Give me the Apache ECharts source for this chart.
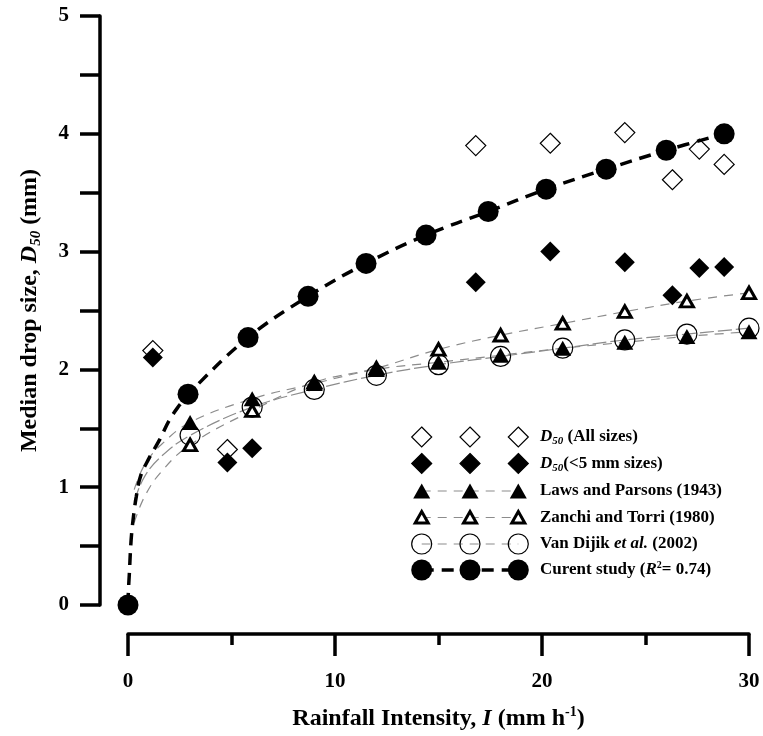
<!DOCTYPE html>
<html>
<head>
<meta charset="utf-8">
<script src="https://cdn.jsdelivr.net/npm/echarts@6.0.0/dist/echarts.min.js"></script>
<style>
  html, body { margin: 0; padding: 0; background: #fff; }
  #chart { width: 763px; height: 736px; }
</style>
</head>
<body>
<div id="chart"></div>
<script>
  // data
  const allSizesI = [1.2, 4.8, 16.8, 20.4, 24.0, 26.3, 27.6, 28.8]
  const allSizesD = [2.16, 1.32, 3.90, 3.92, 4.01, 3.61, 3.87, 3.74]
  const lt5I = [1.2, 4.8, 6.0, 16.8, 20.4, 24.0, 26.3, 27.6, 28.8]
  const lt5D = [2.10, 1.21, 1.33, 2.74, 3.00, 2.91, 2.63, 2.86, 2.87]

  const lawsI = [3, 6, 9, 12, 15, 18, 21, 24, 27, 30]
  const lawsD = [1.55, 1.75, 1.88, 2.00, 2.06, 2.12, 2.18, 2.23, 2.28, 2.32]
  const zanchiI = [3, 6, 9, 12, 15, 18, 21, 24, 27, 30]
  const zanchiD = [1.36, 1.65, 1.89, 2.01, 2.17, 2.29, 2.39, 2.49, 2.58, 2.65]
  const vanDijikI = [3, 6, 9, 12, 15, 18, 21, 24, 27, 30]
  const vanDijikD = [1.44, 1.68, 1.83, 1.95, 2.04, 2.11, 2.18, 2.25, 2.30, 2.35]

  const currentI = [0, 2.9, 5.8, 8.7, 11.5, 14.4, 17.4, 20.2, 23.1, 26.0, 28.8]
  const currentD = [0, 1.79, 2.27, 2.62, 2.90, 3.14, 3.34, 3.53, 3.70, 3.86, 4.00]

  // where the fitted curves leave the origin
  const currentStartI = [0.02, 0.06, 0.15, 0.25, 0.4, 0.6, 1.0, 1.55, 2.0, 2.5]
  const currentStartD = [0.12, 0.25, 0.55, 0.73, 0.92, 1.09, 1.24, 1.41, 1.57, 1.70]
  const lawsStartI = [0.3, 0.8, 1.6]
  const lawsStartD = [0.98, 1.19, 1.36]
  const zanchiStartI = [0.3, 0.8, 1.6]
  const zanchiStartD = [0.70, 0.92, 1.13]
  const vanDijikStartI = [0.3, 0.8, 1.6]
  const vanDijikStartD = [0.88, 1.09, 1.26]

  const xTicks = [0, 10, 20, 30]
  const yTicks = [0, 1, 2, 3, 4, 5]

  const serif = "'Liberation Serif', 'Times New Roman', serif"

  function zip(xs, ys) {
    return xs.map((x, i) => [x, ys[i]])
  }

  const chart = echarts.init(document.getElementById('chart'))

  // legend drawn by hand: three markers per row like the original
  const rowY = [437, 463.5, 491, 517.5, 544, 570]
  const markX = [421.7, 470, 518.3]
  const txt = { fontFamily: serif, fontWeight: 'bold', fontSize: 17, lineHeight: 20 }
  const rich = {
    b: txt,
    i: { ...txt, fontStyle: 'italic' },
    s: { fontFamily: serif, fontWeight: 'bold', fontStyle: 'italic', fontSize: 11, lineHeight: 12, verticalAlign: 'bottom' },
    p: { fontFamily: serif, fontWeight: 'bold', fontSize: 10, lineHeight: 12, verticalAlign: 'top' }
  }
  const rows = [
    { mark: 'diamondOpen', text: '{i|D}{s|50}{b| (All sizes)}' },
    { mark: 'diamond', text: '{i|D}{s|50}{b|(<5 mm sizes)}' },
    { mark: 'triangle', line: 'grey', text: '{b|Laws and Parsons (1943)}' },
    { mark: 'triangleOpen', line: 'grey', text: '{b|Zanchi and Torri (1980)}' },
    { mark: 'circleOpen', line: 'grey', text: '{b|Van Dijik }{i|et al.}{b| (2002)}' },
    { mark: 'circle', line: 'black', text: '{b|Curent study (}{i|R}{p|2}{b|= 0.74)}' }
  ]

  function marker(type, cx, cy) {
    if (type === 'diamond' || type === 'diamondOpen') {
      return {
        type: 'polygon',
        shape: { points: [[cx, cy - 10], [cx + 10, cy], [cx, cy + 10], [cx - 10, cy]] },
        style: { fill: type === 'diamond' ? '#000' : '#fff', stroke: '#000', lineWidth: 1.2 }
      }
    }
    if (type === 'triangle') {
      return {
        type: 'polygon',
        shape: { points: [[cx, cy - 7.5], [cx + 8.5, cy + 7.5], [cx - 8.5, cy + 7.5]] },
        style: { fill: '#000' }
      }
    }
    if (type === 'triangleOpen') {
      return {
        type: 'polygon',
        shape: { points: [[cx, cy - 6], [cx + 6.5, cy + 5.5], [cx - 6.5, cy + 5.5]] },
        style: { fill: '#fff', stroke: '#000', lineWidth: 3 }
      }
    }
    if (type === 'circleOpen') {
      return { type: 'circle', shape: { cx, cy, r: 10 }, style: { fill: 'transparent', stroke: '#000', lineWidth: 1.2 } }
    }
    return { type: 'circle', shape: { cx, cy, r: 10.5 }, style: { fill: '#000' } }
  }

  const legendItems = []
  rows.forEach((row, k) => {
    const y = rowY[k]
    if (row.line === 'grey') {
      legendItems.push({
        type: 'line',
        shape: { x1: markX[0], y1: y, x2: markX[2], y2: y },
        style: { stroke: '#8c8c8c', lineWidth: 1.2, lineDash: [9, 7] }
      })
    } else if (row.line === 'black') {
      legendItems.push({
        type: 'line',
        shape: { x1: markX[0], y1: y, x2: markX[2], y2: y },
        style: { stroke: '#000', lineWidth: 3.5, lineDash: [12, 8] }
      })
    }
    markX.forEach((x) => legendItems.push(marker(row.mark, x, y)))
    legendItems.push({
      type: 'text',
      x: 540,
      y: y,
      style: { text: row.text, rich: rich, fill: '#000', verticalAlign: 'middle', align: 'left' }
    })
  })

  const axisText = { fontFamily: serif, fontWeight: 'bold', fontSize: 24, lineHeight: 28, color: '#000' }
  const nameRich = {
    b: axisText,
    i: { ...axisText, fontStyle: 'italic' },
    s: { fontFamily: serif, fontWeight: 'bold', fontStyle: 'italic', fontSize: 15, lineHeight: 16, color: '#000', verticalAlign: 'bottom' },
    p: { fontFamily: serif, fontWeight: 'bold', fontSize: 14, lineHeight: 16, color: '#000', verticalAlign: 'top' }
  }
  const axisLine = { onZero: false, lineStyle: { color: '#000', width: 3.5 } }

  const option = {
    backgroundColor: '#fff',
    animation: false,
    grid: { left: 128, right: 14, top: 16, bottom: 127 },
    xAxis: {
      type: 'value',
      min: xTicks[0],
      max: xTicks[xTicks.length - 1],
      interval: 10,
      offset: 29,
      axisLine: axisLine,
      axisTick: { length: 22, lineStyle: { color: '#000', width: 3.5 } },
      minorTick: { show: true, splitNumber: 2, length: 11, lineStyle: { color: '#000', width: 3.5 } },
      splitLine: { show: false },
      axisLabel: { margin: 37, fontSize: 21, fontWeight: 'bold', fontFamily: serif, color: '#000' },
      name: '{b|Rainfall Intensity, }{i|I}{b| (mm h}{p|-1}{b|)}',
      nameLocation: 'middle',
      nameGap: 71,
      nameTextStyle: { rich: nameRich }
    },
    yAxis: {
      type: 'value',
      min: yTicks[0],
      max: yTicks[yTicks.length - 1],
      interval: 1,
      offset: 28,
      axisLine: axisLine,
      axisTick: { length: 20, lineStyle: { color: '#000', width: 3.5 } },
      minorTick: { show: true, splitNumber: 2, length: 20, lineStyle: { color: '#000', width: 3.5 } },
      splitLine: { show: false },
      axisLabel: { margin: 31, fontSize: 21, fontWeight: 'bold', fontFamily: serif, color: '#000' },
      name: '{b|Median drop size, }{i|D}{s|50}{b| (mm)}',
      nameLocation: 'middle',
      nameGap: 56,
      nameTextStyle: { rich: nameRich }
    },
    graphic: legendItems,
    series: [
      {
        name: 'D50 (All sizes)',
        type: 'scatter',
        z: 2,
        symbol: 'diamond',
        symbolSize: 20,
        itemStyle: { color: '#fff', borderColor: '#000', borderWidth: 1.2, opacity: 1 },
        data: zip(allSizesI, allSizesD)
      },
      {
        name: 'D50(<5 mm sizes)',
        type: 'scatter',
        z: 3,
        symbol: 'diamond',
        symbolSize: 20,
        itemStyle: { color: '#000', opacity: 1 },
        data: zip(lt5I, lt5D)
      },
      {
        name: 'Laws fit',
        type: 'line',
        z: 4,
        smooth: 0.4,
        showSymbol: false,
        lineStyle: { color: '#8c8c8c', width: 1.2, type: [9, 7] },
        data: zip(lawsStartI.concat(lawsI), lawsStartD.concat(lawsD))
      },
      {
        name: 'Zanchi fit',
        type: 'line',
        z: 4,
        smooth: 0.4,
        showSymbol: false,
        lineStyle: { color: '#8c8c8c', width: 1.2, type: [9, 7] },
        data: zip(zanchiStartI.concat(zanchiI), zanchiStartD.concat(zanchiD))
      },
      {
        name: 'Van Dijik fit',
        type: 'line',
        z: 4,
        smooth: 0.4,
        showSymbol: false,
        lineStyle: { color: '#8c8c8c', width: 1.2, type: [14, 4] },
        data: zip(vanDijikStartI.concat(vanDijikI), vanDijikStartD.concat(vanDijikD))
      },
      {
        name: 'Van Dijik et al. (2002)',
        type: 'scatter',
        z: 5,
        symbol: 'circle',
        symbolSize: 20,
        itemStyle: { color: 'rgba(255,255,255,0)', borderColor: '#000', borderWidth: 1.2, opacity: 1 },
        data: zip(vanDijikI, vanDijikD)
      },
      {
        name: 'Zanchi and Torri (1980)',
        type: 'scatter',
        z: 6,
        symbol: 'triangle',
        symbolSize: [13, 11.5],
        itemStyle: { color: '#fff', borderColor: '#000', borderWidth: 3, opacity: 1 },
        data: zip(zanchiI, zanchiD)
      },
      {
        name: 'Laws and Parsons (1943)',
        type: 'scatter',
        z: 7,
        symbol: 'triangle',
        symbolSize: [17, 15],
        itemStyle: { color: '#000', opacity: 1 },
        data: zip(lawsI, lawsD)
      },
      {
        name: 'Current fit',
        type: 'line',
        z: 8,
        smooth: 0.4,
        showSymbol: false,
        lineStyle: { color: '#000', width: 3.5, type: [12, 8] },
        data: zip([0].concat(currentStartI, currentI.slice(1)), [0].concat(currentStartD, currentD.slice(1)))
      },
      {
        name: 'Curent study',
        type: 'scatter',
        z: 9,
        symbol: 'circle',
        symbolSize: 21,
        itemStyle: { color: '#000', opacity: 1 },
        data: zip(currentI, currentD)
      }
    ]
  }

  chart.setOption(option)
</script>
</body>
</html>
